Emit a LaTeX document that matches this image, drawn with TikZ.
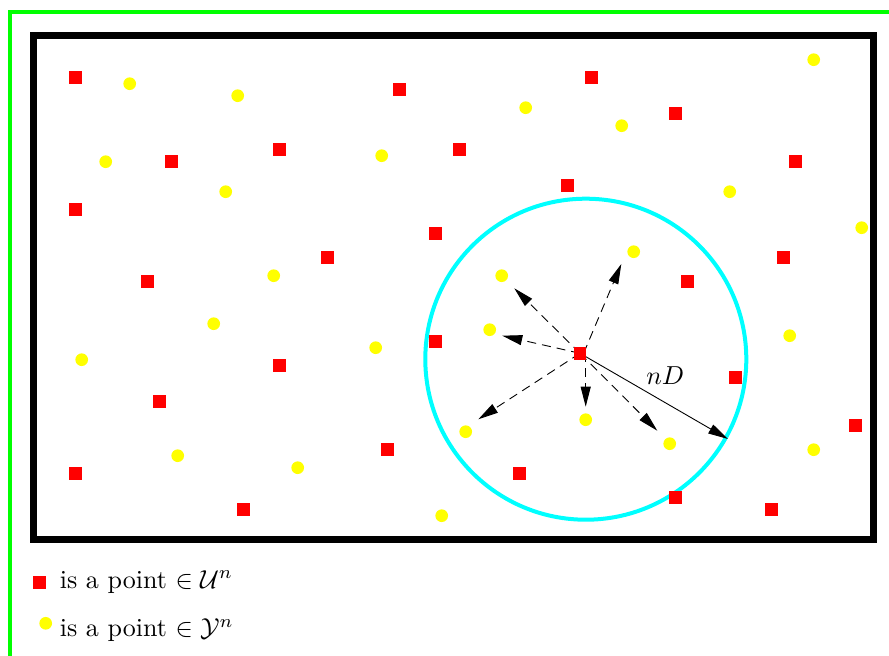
\documentclass[tikz,border=0pt]{standalone}
\usetikzlibrary{arrows.meta}
\definecolor{cyanrgb}{RGB}{0,255,255}
\definecolor{greenrgb}{RGB}{0,255,0}
\definecolor{yellowrgb}{RGB}{255,255,0}
\definecolor{redrgb}{RGB}{255,0,0}
\begin{document}
\begin{tikzpicture}[x=1pt,y=-1pt,
  usq/.style={rectangle,fill=redrgb,inner sep=0pt,minimum size=12.7pt},
  ydot/.style={circle,fill=yellowrgb,inner sep=0pt,minimum size=12.7pt},
  darr/.style={line width=0.9pt,dash pattern=on 9pt off 6pt,-{Triangle[length=20pt,width=10pt]}},
  sarr/.style={line width=0.9pt,-{Triangle[length=20pt,width=10pt]}},
  lbl/.style={scale=2.6,inner sep=0pt}]
\useasboundingbox (0,0) rectangle (889,656);
% green frame
\draw[greenrgb,line width=4pt] (10,670) -- (10,12) -- (900,12);
% black box
\draw[line width=7pt] (33.5,35.5) rectangle (873.5,539);
% cyan circle
\draw[cyanrgb,line width=4pt] (585.8,359.2) circle[radius=160.5];
% arrows
\coordinate (c) at (580,353.3);
\coordinate (c3) at (583.6,353.3);
\coordinate (c5) at (585.7,353.3);
\coordinate (t1) at (514.3,288.3);
\coordinate (t2) at (502.3,335.7);
\coordinate (t3) at (621.3,264);
\coordinate (t4) at (478.3,419.3);
\coordinate (t5) at (585.7,406.7);
\coordinate (t6) at (657.3,430.7);
\coordinate (t7) at (728,439);
\draw[darr] (c) -- (t1);
\draw[darr] (c) -- (t2);
\draw[darr] (c3) -- (t3);
\draw[darr] (c) -- (t4);
\draw[darr] (c5) -- (t5);
\draw[darr] (c) -- (t6);
\draw[sarr] (c) -- (t7);
\node[lbl,anchor=base] (nd) at (665.3,384) {$nD$};
% points
\begin{scope}[shift={(0.7,0.7)}]
\foreach \px/\py [count=\i] in {75/77,399/89,591/77,675/113,171/161,279/149,459/149,795/161,75/209,567/185,435/233,327/257,147/281,687/281,783/257,435/341,279/365,735/377,159/401,855/425,387/449,75/473,519/473,243/509,675/497,771/509}
  {\node[usq] (u\i) at (\px,\py) {};}
\foreach \px/\py [count=\i] in {129/83,237/95,525/107,621/125,813/59,105/161,381/155,225/191,729/191,861/227,633/251,273/275,501/275,213/323,489/329,789/335,81/359,375/347,465/431,585/419,669/443,813/449,177/455,297/467,441/515}
  {\node[ydot] (y\i) at (\px,\py) {};}
\end{scope}
\node[usq] (uc) at (c) {};
% legend
\node[usq] (lu) at (39.7,582.2) {};
\node[lbl,anchor=base west] (lut) at (59.3,588.3) {is a point $\in \mathcal{U}^n$};
\node[ydot] (ly) at (45.7,623.3) {};
\node[lbl,anchor=base west] (lyt) at (59.3,636.7) {is a point $\in \mathcal{Y}^n$};
\end{tikzpicture}
\end{document}
